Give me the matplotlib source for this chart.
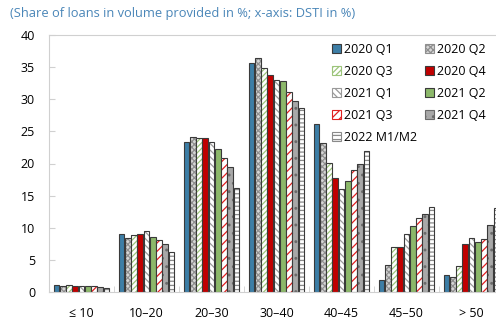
import matplotlib.pyplot as plt
import numpy as np

plt.rcParams['font.family'] = ['Open Sans', 'DejaVu Sans']
plt.rcParams['hatch.linewidth'] = 0.9

categories = ['≤ 10', '10–20', '20–30', '30–40', '40–45', '45–50', '> 50']
periods = ['2020 Q1', '2020 Q2', '2020 Q3', '2020 Q4', '2021 Q1',
           '2021 Q2', '2021 Q3', '2021 Q4', '2022 M1/M2']

q1_2020 = [1.05, 9.1, 23.3, 35.7, 26.2, 1.9, 2.7]
q2_2020 = [1.0, 8.4, 24.2, 36.4, 23.2, 4.2, 2.4]
q3_2020 = [1.05, 8.8, 24.0, 34.9, 20.1, 7.0, 4.0]
q4_2020 = [0.9, 9.1, 23.9, 33.7, 17.8, 7.0, 7.4]
q1_2021 = [0.9, 9.5, 23.4, 33.0, 16.0, 9.0, 8.4]
q2_2021 = [0.9, 8.5, 22.3, 32.8, 17.3, 10.3, 7.8]
q3_2021 = [0.95, 8.1, 20.8, 31.1, 19.0, 11.5, 8.2]
q4_2021 = [0.8, 7.4, 19.4, 29.7, 20.0, 12.1, 10.4]
m12_2022 = [0.6, 6.3, 16.2, 28.7, 22.0, 13.2, 13.0]

series = [q1_2020, q2_2020, q3_2020, q4_2020, q1_2021,
          q2_2021, q3_2021, q4_2021, m12_2022]

# (face, hatch, hatch colour)
styles = [
    ('#3d7ea6', None, None),
    ('#d6d6d6', 'xxxxxx', '#8f8f8f'),
    ('white', '//////', '#9cc47a'),
    ('#c00000', None, None),
    ('white', '\\\\\\\\\\', '#9a9a9a'),
    ('#8cb86a', None, None),
    ('white', '////', '#e02020'),
    ('#a8a8a8', '..', '#6a6a6a'),
    ('white', '----', '#8a8a8a'),
]

edge = '#3a3a3a'
grey = '#d0d0d0'

fig = plt.figure(figsize=(4.96, 3.2), dpi=100)
ax = fig.add_axes([49 / 496, 28 / 320, 455 / 496, 257 / 320])

x = np.arange(len(categories))
w = 0.096
handles = []
for i, (vals, (fc, hatch, hc)) in enumerate(zip(series, styles)):
    pos = x + (i - 4) * w
    if hatch:
        ax.bar(pos, vals, w * 0.92, color=fc, hatch=hatch, edgecolor=hc, linewidth=0)
        ax.bar(pos, vals, w * 0.92, fill=False, edgecolor=edge, linewidth=0.8)
    else:
        ax.bar(pos, vals, w * 0.92, color=fc, edgecolor=edge, linewidth=0.8)
    handles.append(plt.Rectangle((0, 0), 1, 1, facecolor=fc, hatch=hatch,
                                 edgecolor=hc if hatch else edge, linewidth=0.8))

ax.set_xlim(-0.5, 6.5)
ax.set_ylim(0, 40)
ax.set_yticks(range(0, 41, 5))
ax.set_xticks(x)
ax.set_xticklabels(categories)
ax.set_xticks(np.arange(-0.5, 7, 1), minor=True)
ax.tick_params(axis='x', which='major', length=0, pad=11, labelsize=9)
ax.tick_params(axis='x', which='minor', length=4, color=grey, direction='in')
ax.tick_params(axis='y', length=4, color=grey, direction='in', pad=10, labelsize=9)
for s in ['left', 'bottom', 'top']:
    ax.spines[s].set_color(grey)
ax.spines['right'].set_visible(False)

order = [0, 2, 4, 6, 8, 1, 3, 5, 7]
ax.legend([handles[k] for k in order], [periods[k] for k in order], ncol=2,
          loc='upper left', bbox_to_anchor=(332 / 496, 1 - 43 / 320),
          bbox_transform=fig.transFigure, frameon=False, fontsize=9,
          borderpad=0, borderaxespad=0,
          handlelength=0.68, handleheight=0.7, handletextpad=0.27,
          columnspacing=0.65, labelspacing=0.72)

fig.text(10 / 496, 1 - 13 / 320, '(Share of loans in volume provided in %; x-axis: DSTI in %)',
         color='#4a86b8', fontsize=9.3, va='center', ha='left')

fig.savefig('out.png', dpi=100)
